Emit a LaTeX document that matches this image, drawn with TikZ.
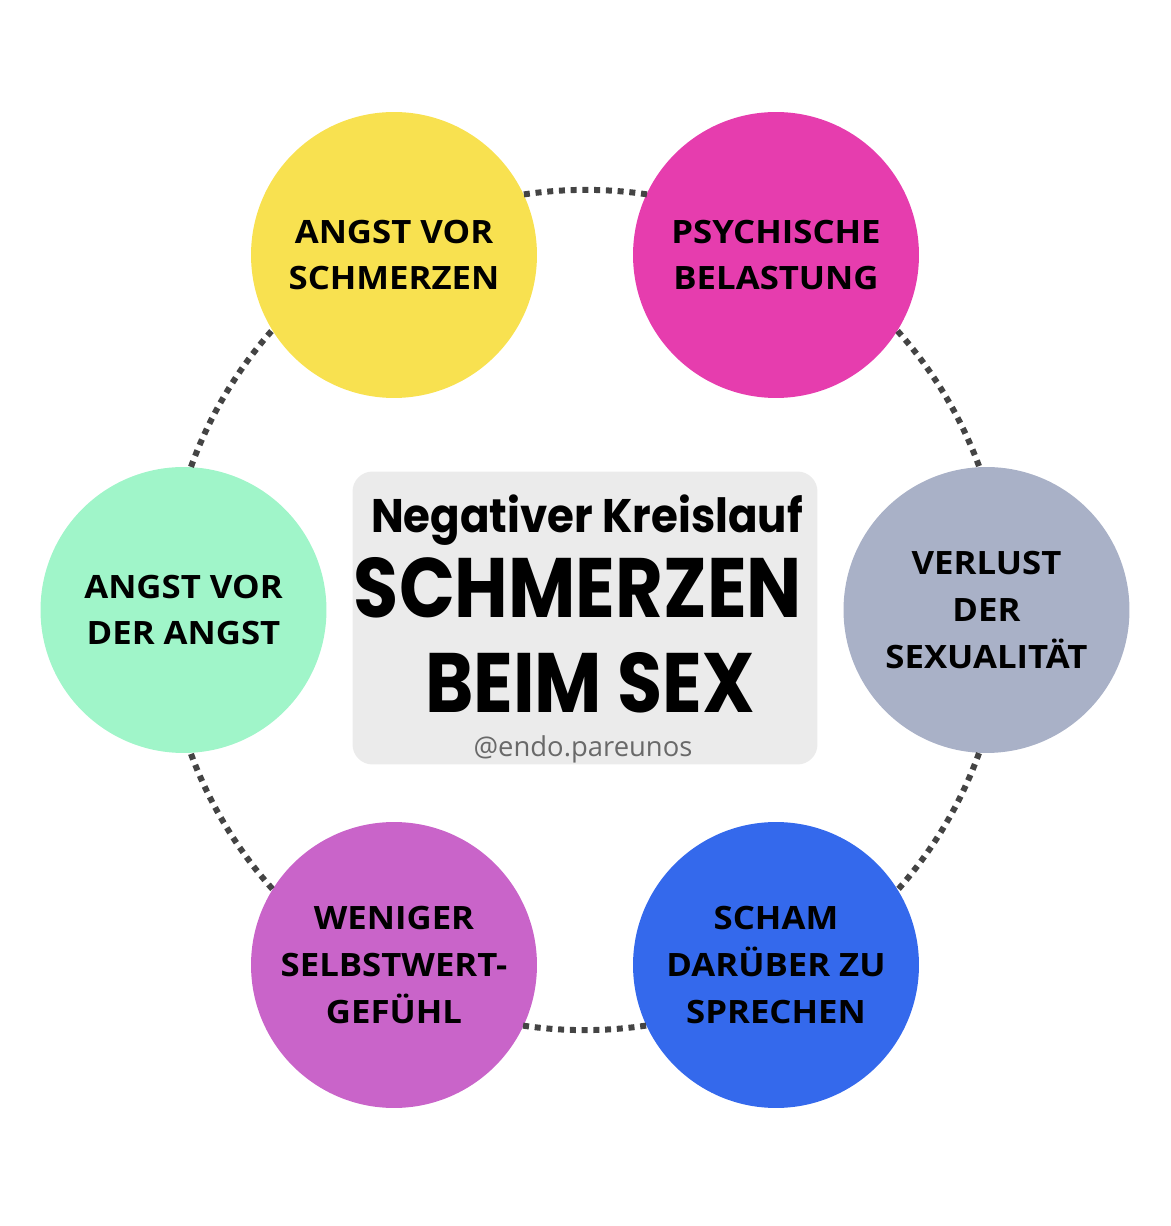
\documentclass[tikz,border=0pt]{standalone}
\usepackage{fontspec}
\setmainfont{Open Sans}
\newfontfamily\kreisfont[FakeStretch=1.08]{Open Sans}
\newfontfamily\titelfont[FakeStretch=0.925]{Poppins}
\newfontfamily\grossfont[FakeStretch=0.87]{Poppins}
\definecolor{gelb}{HTML}{F8E150}
\definecolor{pink}{HTML}{E63DAE}
\definecolor{blaugrau}{HTML}{A9B1C7}
\definecolor{blau}{HTML}{3469EC}
\definecolor{lila}{HTML}{C964C9}
\definecolor{mint}{HTML}{A0F5C9}
\definecolor{kasten}{HTML}{EBEBEB}
\definecolor{punkte}{HTML}{444444}
\begin{document}
\begin{tikzpicture}[x=0.02cm,y=0.02cm,
  kreis/.style={circle,minimum size=5.72cm,inner sep=0pt,align=center,
    font=\kreisfont\bfseries\fontsize{18.3}{26.6}\selectfont},
  kette/.style={punkte,line width=0.12cm,dash pattern=on 0.12cm off 0.115cm}]
\useasboundingbox (-585,-616) rectangle (585,610);

\node[kreis,fill=gelb] (k1) at (-191,355) {ANGST VOR\\SCHMERZEN};
\node[kreis,fill=pink] (k2) at (191,355) {PSYCHISCHE\\BELASTUNG};
\node[kreis,fill=blaugrau] (k3) at (401.5,0) {VERLUST\\DER\\SEXUALITÄT};
\node[kreis,fill=blau] (k4) at (191,-355) {SCHAM\\DARÜBER ZU\\SPRECHEN};
\node[kreis,fill=lila] (k5) at (-191,-355) {WENIGER\\SELBSTWERT-\\GEFÜHL};
\node[kreis,fill=mint] (k6) at (-401.5,0) {ANGST VOR\\DER ANGST};

% dotted ring, one arc from each circle to the next
\foreach \k/\w/\s/\e in {k1/25.45/98.44/81.56, k2/328.88/41.88/19.84,
    k3/267.8/-19.84/-41.88, k4/205.45/-81.56/-98.44,
    k5/148.88/-138.12/-160.16, k6/87.8/160.16/138.12}
  \draw[kette] (\k.\w) arc[start angle=\s,end angle=\e,radius=421];

\node[rectangle,rounded corners=0.4cm,fill=kasten,minimum width=9.3cm,minimum height=5.86cm] (box) at (0,-8) {};
\node[anchor=base,inner sep=0pt,font=\titelfont\bfseries\fontsize{26.8}{30}\selectfont] (titel) at (2,77) {Negativer Kreislauf};
\node[anchor=base,inner sep=0pt,font=\grossfont\bfseries\fontsize{48}{50}\selectfont] (zeile1) at (-7,-8) {SCHMERZEN};
\node[anchor=base,inner sep=0pt,font=\grossfont\bfseries\fontsize{48}{50}\selectfont] (zeile2) at (5,-103) {BEIM SEX};
\node[anchor=base,inner sep=0pt,text=punkte!80,font=\fontsize{15.6}{18}\selectfont] (handle) at (-2,-147) {@endo.pareunos};

\end{tikzpicture}
\end{document}
